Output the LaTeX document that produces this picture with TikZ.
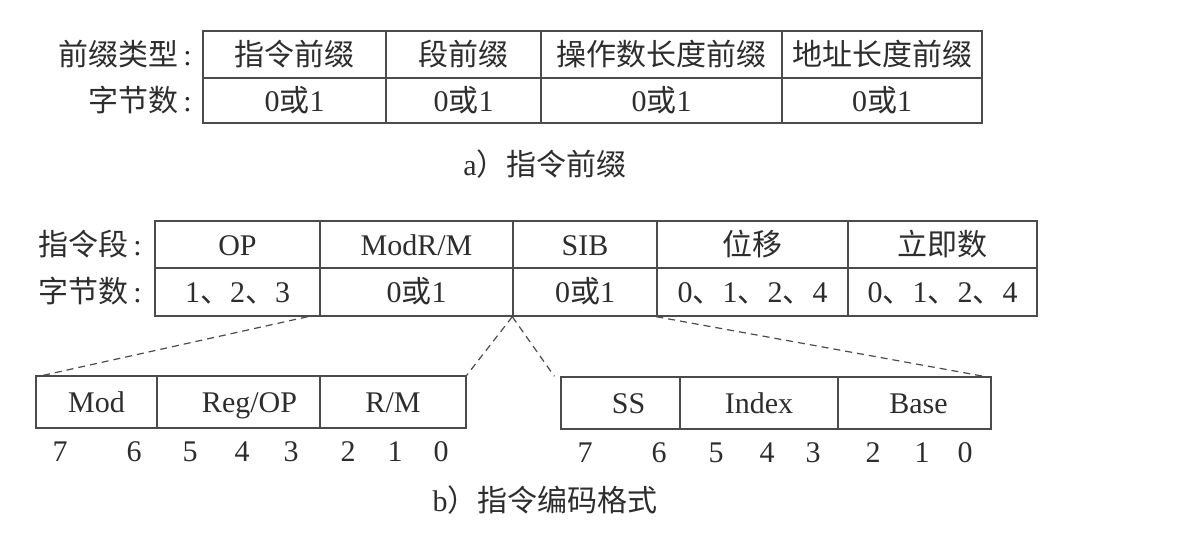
\documentclass[tikz,border=0pt]{standalone}
\usepackage{fontspec}
\setmainfont{Liberation Serif}
\newfontfamily\cjk{Noto Sans CJK SC}
\definecolor{tc}{RGB}{45,45,45}
\definecolor{lc}{RGB}{75,75,75}
\begin{document}
\begin{tikzpicture}[x=1pt,y=-1pt,
  txt/.style={text=tc, font=\fontsize{30}{30}\selectfont, inner sep=0pt, text height=25pt, text depth=4pt},
  cell/.style={draw=lc, line width=1.4pt, inner sep=0pt, txt},
  dsh/.style={draw=lc, line width=1.2pt, dash pattern=on 7pt off 5pt}
]
\useasboundingbox[fill=white] (0,0) rectangle (1177,536);

% ---- a) prefix table
\node[txt, anchor=east] (la1) at (192,54.5) {{\cjk 前缀类型}\,:};
\node[txt, anchor=east] (la2) at (192,100.5) {{\cjk 字节数}\,:};
\node[cell, minimum width=183pt, minimum height=47pt] (a11) at (294.5,54.5) {\cjk 指令前缀};
\node[cell, minimum width=155pt, minimum height=47pt] (a12) at (463.5,54.5) {\cjk 段前缀};
\node[cell, minimum width=241pt, minimum height=47pt] (a13) at (661.5,54.5) {\cjk 操作数长度前缀};
\node[cell, minimum width=200pt, minimum height=47pt] (a14) at (882,54.5) {\cjk 地址长度前缀};
\node[cell, minimum width=183pt, minimum height=45pt] (a21) at (294.5,100.5) {0{\cjk 或}1};
\node[cell, minimum width=155pt, minimum height=45pt] (a22) at (463.5,100.5) {0{\cjk 或}1};
\node[cell, minimum width=241pt, minimum height=45pt] (a23) at (661.5,100.5) {0{\cjk 或}1};
\node[cell, minimum width=200pt, minimum height=45pt] (a24) at (882,100.5) {0{\cjk 或}1};
\node[txt] (capa) at (545,165) {a{\cjk ）指令前缀}};

% ---- b) instruction format table
\node[txt, anchor=east] (lb1) at (142,244.5) {{\cjk 指令段}\,:};
\node[txt, anchor=east] (lb2) at (142,292) {{\cjk 字节数}\,:};
\node[cell, minimum width=165pt, minimum height=47pt] (b11) at (237.5,244.5) {OP};
\node[cell, minimum width=193pt, minimum height=47pt] (b12) at (416.5,244.5) {ModR/M};
\node[cell, minimum width=144pt, minimum height=47pt] (b13) at (585,244.5) {SIB};
\node[cell, minimum width=191pt, minimum height=47pt] (b14) at (752.5,244.5) {\cjk 位移};
\node[cell, minimum width=189pt, minimum height=47pt] (b15) at (942.5,244.5) {\cjk 立即数};
\node[cell, minimum width=165pt, minimum height=48pt] (b21) at (237.5,292) {1{\cjk 、}2{\cjk 、}3};
\node[cell, minimum width=193pt, minimum height=48pt] (b22) at (416.5,292) {0{\cjk 或}1};
\node[cell, minimum width=144pt, minimum height=48pt] (b23) at (585,292) {0{\cjk 或}1};
\node[cell, minimum width=191pt, minimum height=48pt] (b24) at (752.5,292) {0{\cjk 、}1{\cjk 、}2{\cjk 、}4};
\node[cell, minimum width=189pt, minimum height=48pt] (b25) at (942.5,292) {0{\cjk 、}1{\cjk 、}2{\cjk 、}4};

% ---- ModR/M byte
\node[cell, minimum width=121pt, minimum height=52pt] (mod) at (96.5,402) {Mod};
\node[cell, minimum width=163pt, minimum height=52pt, label={[txt, xshift=11pt]center:Reg/OP}] (reg) at (238.5,402) {};
\node[cell, minimum width=146pt, minimum height=52pt] (rm) at (393,402) {R/M};
\foreach \x/\d [count=\i] in {60/7,134/6,190/5,242/4,291/3,348/2,395/1,441/0}
  \node[txt] (m\i) at (\x,451) {\d};

% ---- SIB byte
\node[cell, minimum width=119pt, minimum height=52pt, label={[txt, xshift=8pt]center:SS}] (ss) at (620.5,403) {};
\node[cell, minimum width=158pt, minimum height=52pt] (idx) at (759,403) {Index};
\node[cell, minimum width=153pt, minimum height=52pt, label={[txt, xshift=4pt]center:Base}] (base) at (914.5,403) {};
\foreach \x/\d [count=\i] in {585/7,659/6,716/5,767/4,813/3,873/2,922/1,965/0}
  \node[txt] (s\i) at (\x,452) {\d};

\node[txt] (capb) at (545,501) {b{\cjk ）指令编码格式}};

% ---- dashed connectors
\draw[dsh] ([xshift=-13pt]b21.south east) -- ([xshift=8pt]mod.north west);
\draw[dsh] (b23.south west) -- (rm.north east);
\draw[dsh] (b23.south west) -- ([xshift=-6pt]ss.north west);
\draw[dsh] (b24.south west) -- ([xshift=-8pt]base.north east);
\end{tikzpicture}
\end{document}
